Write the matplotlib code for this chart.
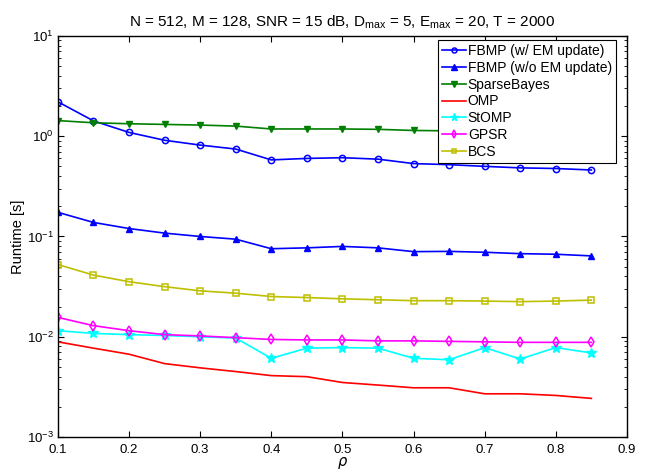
import numpy as np
import matplotlib
matplotlib.use("Agg")
import matplotlib.pyplot as plt
from matplotlib.ticker import LogLocator, NullFormatter, MultipleLocator

plt.rcParams['font.family'] = ['Liberation Sans', 'DejaVu Sans']
plt.rcParams['mathtext.default'] = 'regular'
plt.rcParams['font.size'] = 10

rho = [0.1, 0.15, 0.2, 0.25, 0.3, 0.35, 0.4, 0.45, 0.5, 0.55, 0.6, 0.65, 0.7, 0.75, 0.8, 0.85]

fbmp_em = [2.2, 1.42, 1.09, 0.91, 0.815, 0.744, 0.58, 0.60, 0.61, 0.59, 0.533, 0.52, 0.50, 0.483, 0.476, 0.46]
fbmp_noem = [0.174, 0.138, 0.12, 0.108, 0.1, 0.094, 0.0755, 0.077, 0.0796, 0.077, 0.0706, 0.071, 0.0696, 0.0674, 0.0665, 0.064]
sparsebayes = [1.43, 1.36, 1.33, 1.31, 1.29, 1.26, 1.18, 1.18, 1.18, 1.17, 1.14, 1.13, 1.12, 1.11, 1.10, 1.09]
omp = [0.0089, 0.0077, 0.0067, 0.0054, 0.0049, 0.0045, 0.0041, 0.0040, 0.0035, 0.0033, 0.0031, 0.0031, 0.0027, 0.0027, 0.0026, 0.00243]
stomp = [0.0115, 0.0108, 0.0105, 0.0103, 0.0100, 0.0097, 0.0061, 0.0077, 0.0078, 0.0077, 0.0061, 0.0059, 0.0078, 0.0060, 0.0078, 0.0069]
gpsr = [0.0156, 0.0129, 0.0115, 0.0105, 0.0102, 0.0098, 0.0094, 0.0093, 0.0093, 0.0091, 0.0091, 0.0090, 0.0089, 0.0088, 0.0088, 0.0088]
bcs = [0.0525, 0.0412, 0.0354, 0.0316, 0.0287, 0.0272, 0.0252, 0.0246, 0.0239, 0.0234, 0.0229, 0.0229, 0.0227, 0.0224, 0.0227, 0.0232]

fig = plt.figure(figsize=(6.51, 4.72), dpi=100)
ax = fig.add_axes([0.089, 0.074, 0.874, 0.850])

lw = 1.2
ax.plot(rho, fbmp_em, '-o', color='#0000ff', mfc='none', mew=1.1, ms=4.5, lw=lw, label='FBMP (w/ EM update)')
ax.plot(rho, fbmp_noem, '-^', color='#0000ff', ms=5, lw=lw, label='FBMP (w/o EM update)')
ax.plot(rho, sparsebayes, '-v', color='#007f00', ms=5, lw=lw, label='SparseBayes')
ax.plot(rho, omp, '-', color='#ff0000', lw=lw, label='OMP')
ax.plot(rho, stomp, '-*', color='#00ffff', ms=7, lw=lw, label='StOMP')
ax.plot(rho, gpsr, '-d', color='#ff00ff', mfc='none', mew=1.1, ms=5, lw=lw, label='GPSR')
ax.plot(rho, bcs, '-s', color='#bfbf00', mfc='none', mew=1.1, ms=4, lw=lw, label='BCS')

ax.set_yscale('log')
ax.set_xlim(0.1, 0.9)
ax.set_ylim(1e-3, 1e1)
ax.xaxis.set_major_locator(MultipleLocator(0.1))
ax.yaxis.set_major_locator(LogLocator(base=10, numticks=10))
ax.yaxis.set_minor_locator(LogLocator(base=10, subs=np.arange(2, 10), numticks=20))
ax.yaxis.set_minor_formatter(NullFormatter())
ax.tick_params(which='both', direction='in', top=True, right=True)
ax.tick_params(which='major', length=4, labelsize=9.5)
ax.tick_params(axis='x', which='major', pad=5)
ax.tick_params(axis='y', which='major', pad=3)
ax.tick_params(which='minor', length=2)
for s in ax.spines.values():
    s.set_linewidth(1.0)

ax.set_xlabel(r'$\it{\rho}$', fontsize=10.5, labelpad=-1)
ax.set_ylabel('Runtime [s]', fontsize=10.5, labelpad=1)
ax.set_title('N = 512, M = 128, SNR = 15 dB, D$_{max}$ = 5, E$_{max}$ = 20, T = 2000', fontsize=11, pad=7)

leg = ax.legend(loc='upper right', bbox_to_anchor=(0.981, 0.990), fontsize=10, fancybox=False,
                framealpha=1, edgecolor='black', borderaxespad=0, handlelength=1.7,
                handletextpad=0.15, labelspacing=0.2, borderpad=0.3, markerscale=0.8)
leg.get_frame().set_linewidth(0.8)

fig.savefig('out.png', dpi=100)
